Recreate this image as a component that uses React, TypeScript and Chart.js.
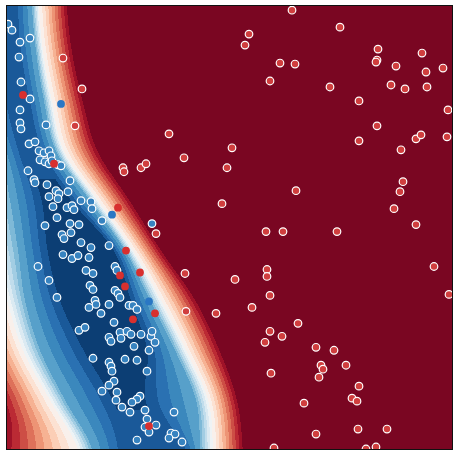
import React, { useEffect, useRef } from "react";
import { Chart, registerables } from "chart.js";

Chart.register(...registerables);

// ---- scatter data (feature units: x 0..447, y 0..446) ----
const blueTrain: [number, number][] = [
  [2, 427], [6, 421], [14, 409], [24, 413], [13, 394], [15, 369], [24, 352], [14, 341], [14, 328], [15, 322],
  [40, 326], [23, 307], [29, 309], [33, 300], [38, 298], [43, 300], [45, 295], [34, 291], [39, 289], [43, 287],
  [46, 290], [52, 286], [55, 285], [22, 280], [28, 271], [29, 268], [41, 266], [64, 270], [50, 260], [53, 257],
  [62, 259], [43, 254], [52, 252], [47, 244], [61, 243], [66, 245], [68, 241], [75, 250], [85, 249], [86, 242],
  [51, 233], [39, 225], [64, 227], [73, 226], [96, 230], [146, 227], [56, 216], [58, 212], [65, 218], [75, 208],
  [85, 203], [103, 205], [57, 196], [66, 192], [72, 195], [83, 193], [32, 184], [80, 180], [87, 177], [109, 184],
  [111, 180], [43, 170], [84, 165], [87, 161], [109, 160], [112, 157], [114, 153], [51, 153], [89, 150], [90, 146],
  [83, 143], [103, 146], [95, 137], [123, 145], [127, 145], [131, 141], [108, 128], [73, 120], [79, 123], [103, 113],
  [105, 109], [114, 118], [115, 112], [121, 119], [125, 116], [135, 116], [145, 114], [146, 119], [149, 108], [128, 104],
  [143, 100], [87, 92], [103, 88], [105, 84], [106, 79], [119, 91], [131, 90], [141, 79], [108, 69], [103, 65],
  [96, 59], [111, 58], [110, 50], [134, 54], [131, 51], [126, 48], [116, 43], [124, 38], [139, 40], [168, 38],
  [141, 31], [150, 25], [139, 23], [143, 18], [165, 17], [169, 16], [163, 12], [131, 10], [176, 8],
];

const redTrain: [number, number][] = [
  [57, 393], [76, 362], [69, 325], [117, 283], [118, 279], [135, 283], [140, 287], [163, 317], [178, 293], [226, 303],
  [221, 283], [216, 247], [290, 260], [150, 217], [260, 219], [277, 219], [261, 181], [261, 174], [179, 177], [229, 171],
  [264, 155], [246, 143], [180, 139], [210, 137], [286, 441], [243, 417], [239, 406], [274, 388], [289, 387], [264, 370],
  [334, 424], [372, 402], [416, 398], [371, 391], [370, 389], [390, 385], [420, 379], [437, 383], [324, 364], [385, 366],
  [399, 362], [421, 364], [353, 350], [442, 341], [371, 325], [353, 310], [410, 312], [415, 316], [441, 314], [395, 301],
  [397, 269], [394, 259], [388, 242], [410, 226], [331, 219], [428, 184], [443, 156], [292, 127], [264, 119], [276, 114],
  [259, 108], [265, 77], [298, 47], [268, 2], [310, 103], [328, 100], [315, 85], [317, 81], [340, 85], [313, 73],
  [353, 64], [346, 52], [351, 49], [352, 21], [381, 21], [310, 16], [360, 1], [370, 3],
];

const redTest: [number, number][] = [
  [17, 356], [48, 287], [112, 243], [120, 200], [114, 175], [134, 178], [119, 164], [149, 137], [127, 131], [143, 24],
];

const blueTest: [number, number][] = [
  [55, 347], [106, 236], [143, 149],
];

// ---- decision surface, read row by row (probability of the red class) ----
const fieldY = [0, 50, 100, 150, 200, 250, 300, 350, 400, 446];
const fieldLeftWhite = [72, 44, 17, 1, -12, -26, -40, -60, -80, -100];
const fieldLeftMid = [86, 59, 34, 19, 12, 4, -6, -30, -40, -50];
const fieldLeftCore = [112, 109, 84, 59, 46, 38, 16, 4, 0, 0];
const fieldCoreValue = [0.1, 0.04, 0.02, 0.02, 0.02, 0.035, 0.07, 0.08, 0.09, 0.1];
const fieldRightCore = [180, 137, 137, 122, 106, 64, 34, 22, 14, 12];
const fieldRightMid = [194, 190, 169, 144, 119, 84, 50, 38, 30, 26];
const fieldRightWhite = [207, 202, 180, 155, 127, 92, 58, 46, 37, 33];
const fieldRightSat = [240, 234, 217, 193, 158, 127, 95, 80, 69, 64];
const fieldLeftRedGrad = [0.006, 0.009, 0.01, 0.01, 0.01, 0.01, 0.01, 0.01, 0.01, 0.01];

const RDBU = ["#67001f", "#b2182b", "#d6604d", "#f4a582", "#fddbc7", "#f7f7f7", "#d1e5f0", "#92c5de", "#4393c3", "#2166ac", "#053061"];
const LEVELS = 20;

function hexToRgb(h: string): number[] {
  return [parseInt(h.slice(1, 3), 16), parseInt(h.slice(3, 5), 16), parseInt(h.slice(5, 7), 16)];
}
function rdbu(t: number): number[] {
  const tt = Math.min(1, Math.max(0, t)) * (RDBU.length - 1);
  const i = Math.min(RDBU.length - 2, Math.floor(tt));
  const f = tt - i;
  const a = hexToRgb(RDBU[i]);
  const b = hexToRgb(RDBU[i + 1]);
  return [0, 1, 2].map((k) => Math.round(a[k] + (b[k] - a[k]) * f));
}
const LUT: number[][] = Array.from({ length: LEVELS }, (_, i) => rdbu(1 - (i + 0.5) / LEVELS));

function interp(arr: number[], y: number): number {
  const n = fieldY.length;
  const yy = Math.min(fieldY[n - 1], Math.max(fieldY[0], y));
  let i = 0;
  while (i < n - 2 && yy > fieldY[i + 1]) i++;
  const t = (yy - fieldY[i]) / (fieldY[i + 1] - fieldY[i]);
  const p0 = arr[Math.max(0, i - 1)], p1 = arr[i], p2 = arr[i + 1], p3 = arr[Math.min(n - 1, i + 2)];
  return 0.5 * (2 * p1 + (-p0 + p2) * t + (2 * p0 - 5 * p1 + 4 * p2 - p3) * t * t + (-p0 + 3 * p1 - 3 * p2 + p3) * t * t * t);
}

function lerp(x: number, xa: number, xb: number, va: number, vb: number) {
  const d = xb - xa;
  if (Math.abs(d) < 1e-6) return vb;
  return va + ((x - xa) / d) * (vb - va);
}

const fieldPlugin = {
  id: "decisionField",
  beforeDatasetsDraw(chart: any) {
    const { ctx, chartArea, scales } = chart;
    const x0 = Math.round(chartArea.left);
    const y0 = Math.round(chartArea.top);
    const w = Math.round(chartArea.right) - x0;
    const h = Math.round(chartArea.bottom) - y0;
    const img = ctx.createImageData(w, h);
    const xs: number[] = [];
    for (let i = 0; i < w; i++) xs.push(scales.x.getValueForPixel(x0 + i + 0.5));
    for (let j = 0; j < h; j++) {
      const yv = scales.y.getValueForPixel(y0 + j + 0.5);
      const lW = interp(fieldLeftWhite, yv);
      const lM = interp(fieldLeftMid, yv);
      const lC = interp(fieldLeftCore, yv);
      const pm = Math.max(0, interp(fieldCoreValue, yv));
      const rC = interp(fieldRightCore, yv);
      const rM = interp(fieldRightMid, yv);
      const rW = interp(fieldRightWhite, yv);
      const rS = interp(fieldRightSat, yv);
      const g = interp(fieldLeftRedGrad, yv);
      for (let i = 0; i < w; i++) {
        const x = xs[i];
        let p: number;
        if (x >= rS) p = 1;
        else if (x >= rW) p = lerp(x, rW, rS, 0.5, 1);
        else if (x >= rM) p = lerp(x, rM, rW, 0.25, 0.5);
        else if (x >= rC) p = lerp(x, rC, rM, pm, 0.25);
        else if (x >= lC) p = pm;
        else if (x >= lM) p = lerp(x, lC, lM, pm, 0.25);
        else if (x >= lW) p = lerp(x, lM, lW, 0.25, 0.5);
        else p = 0.5 + g * (lW - x);
        p = Math.min(0.9999, Math.max(0, p));
        const c = LUT[Math.min(LEVELS - 1, Math.floor(p * LEVELS))];
        const k = (j * w + i) * 4;
        img.data[k] = c[0];
        img.data[k + 1] = c[1];
        img.data[k + 2] = c[2];
        img.data[k + 3] = 255;
      }
    }
    ctx.putImageData(img, x0, y0);
  },
  afterDraw(chart: any) {
    const { ctx, chartArea } = chart;
    ctx.save();
    ctx.strokeStyle = "#111111";
    ctx.lineWidth = 1;
    ctx.strokeRect(
      Math.round(chartArea.left) + 0.5,
      Math.round(chartArea.top) + 0.5,
      Math.round(chartArea.right) - Math.round(chartArea.left) - 1,
      Math.round(chartArea.bottom) - Math.round(chartArea.top) - 1
    );
    ctx.restore();
  },
};

const toPts = (a: [number, number][]) => a.map(([x, y]) => ({ x, y }));

export default function App() {
  const ref = useRef<HTMLCanvasElement | null>(null);
  useEffect(() => {
    if (!ref.current) return;
    const chart = new Chart(ref.current, {
      type: "scatter",
      data: {
        datasets: [
          {
            label: "red test",
            data: toPts(redTest),
            backgroundColor: "#d8302f",
            borderWidth: 0,
            pointRadius: 3.9,
            clip: 0,
          },
          {
            label: "blue test",
            data: toPts(blueTest),
            backgroundColor: "#2a77c4",
            borderWidth: 0,
            pointRadius: 3.9,
            clip: 0,
          },
          {
            label: "red train",
            data: toPts(redTrain),
            backgroundColor: "#d03e3e",
            borderColor: "#ffffff",
            borderWidth: 1.2,
            pointRadius: 3.8,
            clip: 0,
          },
          {
            label: "blue train",
            data: toPts(blueTrain),
            backgroundColor: "#3783c0",
            borderColor: "#ffffff",
            borderWidth: 1.2,
            pointRadius: 3.8,
            clip: 0,
          },
        ] as any,
      },
      options: {
        animation: false,
        responsive: false,
        events: [],
        layout: { padding: { left: 6, top: 4, right: 7, bottom: 8 } },
        plugins: { legend: { display: false }, tooltip: { enabled: false } },
        scales: {
          x: { type: "linear", min: 0, max: 447, display: false },
          y: { type: "linear", min: 0, max: 446, display: false },
        },
      },
      plugins: [fieldPlugin],
    });
    return () => chart.destroy();
  }, []);
  return (
    <div style={{ position: "absolute", left: 0, top: 0, width: 460, height: 458, background: "#ffffff" }}>
      <canvas ref={ref} width={460} height={458} style={{ display: "block", width: 460, height: 458 }} />
    </div>
  );
}
